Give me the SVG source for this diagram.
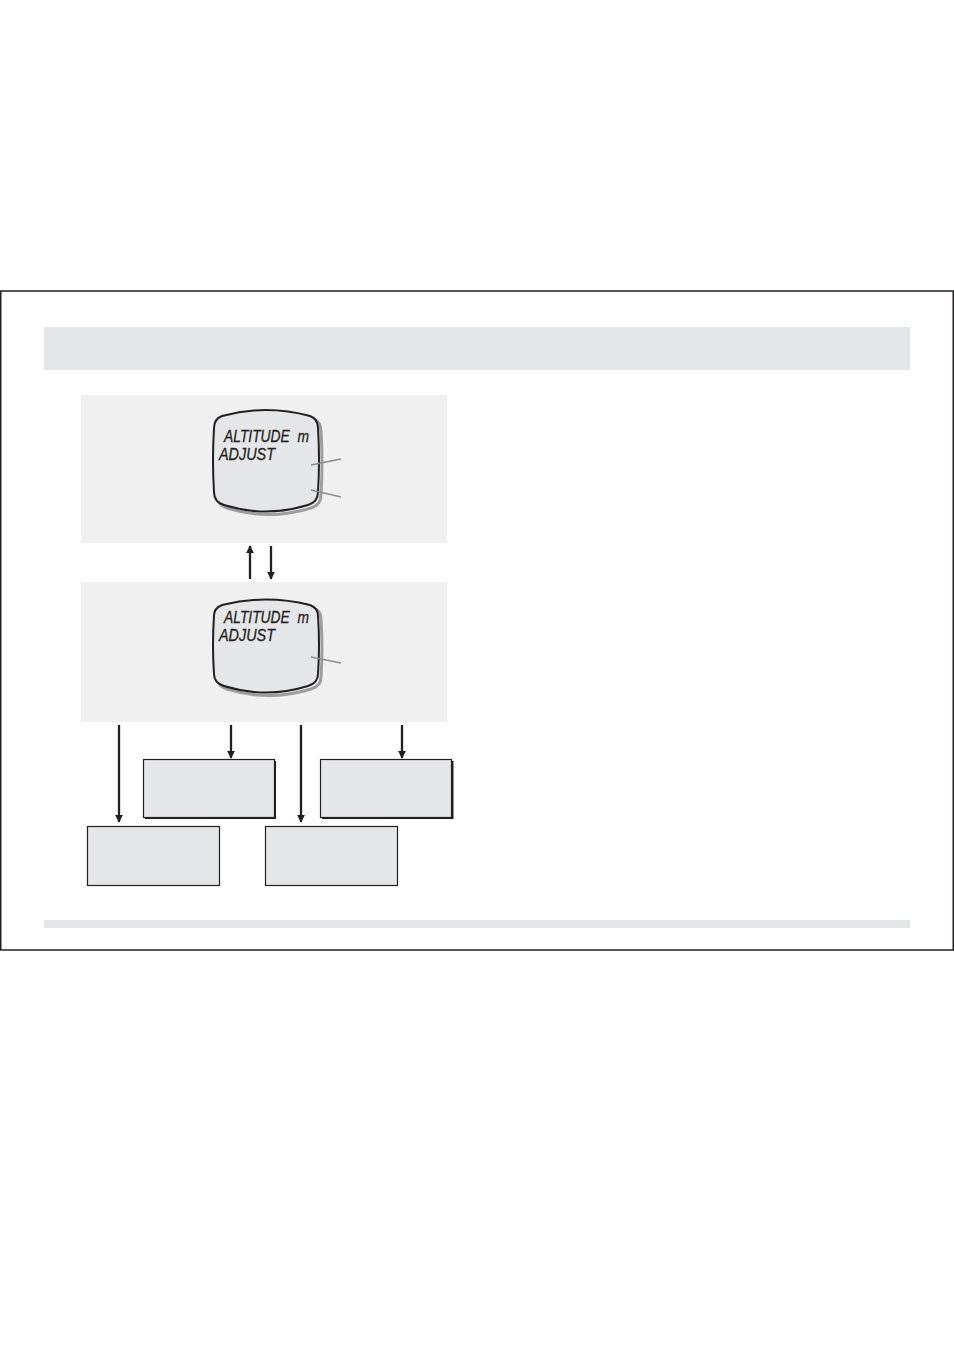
<svg xmlns="http://www.w3.org/2000/svg" width="954" height="1351" viewBox="0 0 954 1351">
<defs>
<style>
.panel{fill:#f0f0f0}
.band{fill:#e5e6e7}
.box{fill:#e5e6e7;stroke:#231f20;stroke-width:1.2}
.scr{fill:#e5e6e7;stroke:#231f20;stroke-width:2}
.shadow{fill:none;stroke:#9d9d9d;stroke-width:3}
.lead{stroke:#8c8c8c;stroke-width:1.5;fill:none}
.lcd{font-family:"Liberation Sans",Arial,sans-serif;font-style:italic;font-size:17px;fill:#231f20;stroke:#231f20;stroke-width:0.3}
.conn{stroke:#231f20;stroke-width:2.3;fill:none}
</style>
<marker id="ah" viewBox="0 0 10 10" refX="9" refY="5" markerWidth="8" markerHeight="8" orient="auto" markerUnits="userSpaceOnUse">
<path d="M0,0 L10,5 L0,10 Z" fill="#231f20"/>
</marker>
</defs>
<rect width="954" height="1351" fill="#ffffff"/>
<rect x="0.75" y="291" width="952.5" height="659" fill="none" stroke="#231f20" stroke-width="1.5"/>
<rect class="band" x="44" y="327" width="866" height="43"/>
<rect class="band" x="44" y="920" width="866" height="8"/>

<g id="panel1">
<rect class="panel" x="81" y="395" width="366" height="148"/>
<path class="shadow" transform="translate(3,3)" d="M222,416 Q266,404 310,416 Q318,419 318,428 Q320,460 318,492 Q318,502 308,505 Q266,518 224,505 Q214,502 214,492 Q212,460 214,428 Q214,419 222,416 Z"/>
<path class="scr" d="M222,416 Q266,404 310,416 Q318,419 318,428 Q320,460 318,492 Q318,502 308,505 Q266,518 224,505 Q214,502 214,492 Q212,460 214,428 Q214,419 222,416 Z"/>
<text class="lcd" x="224" y="442" xml:space="preserve" textLength="85" lengthAdjust="spacingAndGlyphs">ALTITUDE  m</text>
<text class="lcd" x="219" y="460" textLength="56" lengthAdjust="spacingAndGlyphs">ADJUST</text>
<line class="lead" x1="311" y1="465" x2="341" y2="459"/>
<line class="lead" x1="311" y1="490" x2="341" y2="497"/>
</g>

<g id="panel2">
<rect class="panel" x="81" y="582" width="366" height="140"/>
<path class="shadow" transform="translate(3,3)" d="M222,605 Q266,594 310,605 Q318,608 318,616 Q320,645 318,674 Q318,683 308,686 Q266,699 224,686 Q214,683 214,674 Q212,645 214,616 Q214,608 222,605 Z"/>
<path class="scr" d="M222,605 Q266,594 310,605 Q318,608 318,616 Q320,645 318,674 Q318,683 308,686 Q266,699 224,686 Q214,683 214,674 Q212,645 214,616 Q214,608 222,605 Z"/>
<text class="lcd" x="224" y="623" xml:space="preserve" textLength="85" lengthAdjust="spacingAndGlyphs">ALTITUDE  m</text>
<text class="lcd" x="219" y="641" textLength="56" lengthAdjust="spacingAndGlyphs">ADJUST</text>
<line class="lead" x1="311" y1="657" x2="341" y2="663"/>
</g>

<g id="boxA">
<rect x="145" y="761" width="131" height="58" fill="#231f20"/>
<rect class="box" x="143.5" y="759.5" width="131" height="58"/>
</g>
<g id="boxB">
<rect x="322" y="761" width="131.5" height="58" fill="#231f20"/>
<rect class="box" x="320.5" y="759.5" width="131" height="58"/>
</g>
<g id="boxC">
<rect class="box" x="87.5" y="826.5" width="132" height="59"/>
</g>
<g id="boxD">
<rect class="box" x="265.5" y="826.5" width="132" height="59"/>
</g>

<g id="connectors">
<line class="conn" x1="250" y1="579" x2="250" y2="546" marker-end="url(#ah)"/>
<line class="conn" x1="271" y1="546" x2="271" y2="579" marker-end="url(#ah)"/>
<line class="conn" x1="119" y1="725" x2="119" y2="822" marker-end="url(#ah)"/>
<line class="conn" x1="231" y1="725" x2="231" y2="758" marker-end="url(#ah)"/>
<line class="conn" x1="301" y1="725" x2="301" y2="822" stroke-width="3.2" marker-end="url(#ah)"/>
<line class="conn" x1="402" y1="725" x2="402" y2="758" marker-end="url(#ah)"/>
</g>
</svg>
